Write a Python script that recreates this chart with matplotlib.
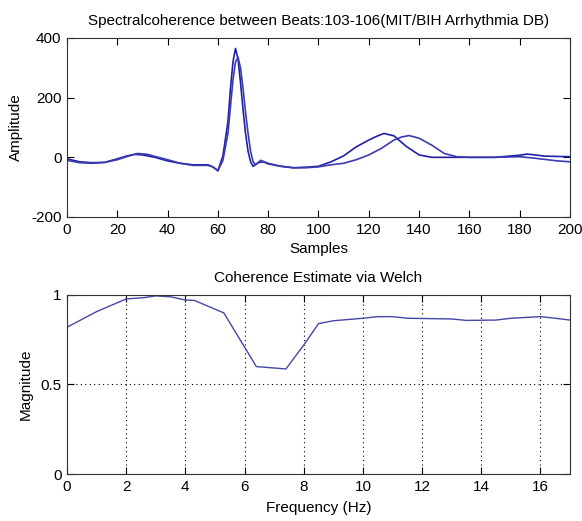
import matplotlib
matplotlib.use("Agg")
from matplotlib import pyplot as plt
import numpy as np

plt.rcParams['font.family'] = ['Liberation Sans', 'DejaVu Sans']
plt.rcParams['axes.unicode_minus'] = False

# beat 103 (earlier T wave)
beat1_x = [0, 5, 10, 15, 20, 24, 27, 30, 35, 40, 45, 50, 56, 58, 60, 62, 64, 65, 66, 67, 68, 69, 70, 71, 72, 73, 74, 76, 78, 80, 85, 90, 95, 100, 105, 110, 115, 120, 123, 126, 130, 135, 140, 145, 150, 160, 170, 180, 183, 186, 190, 195, 200]
beat1_y = [-5, -15, -18, -17, -5, 5, 10, 8, 0, -12, -20, -25, -25, -32, -45, 5, 120, 230, 320, 365, 330, 250, 160, 80, 20, -15, -30, -18, -15, -22, -30, -35, -33, -30, -15, 5, 35, 58, 70, 80, 72, 36, 8, 0, 0, 0, 0, 7, 11, 8, 4, 3, 2]

# beat 106 (later T wave)
beat2_x = [0, 5, 10, 15, 20, 24, 28, 32, 35, 40, 45, 50, 56, 58, 60, 62, 64, 65, 66, 67, 68, 69, 70, 71, 72, 73, 74, 75, 77, 80, 85, 90, 95, 100, 105, 110, 115, 120, 125, 130, 133, 136, 140, 145, 150, 155, 160, 170, 180, 185, 190, 195, 200]
beat2_y = [-10, -18, -20, -17, -8, 3, 13, 10, 3, -8, -20, -27, -27, -32, -45, -10, 80, 170, 260, 320, 335, 300, 230, 150, 80, 20, -15, -25, -10, -20, -30, -35, -35, -32, -25, -20, -8, 8, 30, 58, 68, 73, 64, 41, 13, 2, 0, 0, 2, -2, -7, -12, -15]

# coherence estimate
freq = [0, 1, 2, 2.6, 3, 3.5, 4, 4.3, 5.3, 6.4, 7.4, 8, 8.5, 9, 10, 10.5, 11, 11.5, 13, 13.5, 14.5, 15, 16, 16.5, 17]
coh = [0.82, 0.907, 0.978, 0.985, 0.995, 0.99, 0.972, 0.97, 0.90, 0.60, 0.587, 0.72, 0.84, 0.856, 0.87, 0.879, 0.879, 0.87, 0.866, 0.858, 0.86, 0.87, 0.879, 0.87, 0.86]

fig = plt.figure(figsize=(5.82, 5.21), dpi=100)
ax1 = fig.add_axes([0.1151, 0.5835, 0.8643, 0.3436])
ax2 = fig.add_axes([0.1151, 0.0902, 0.8643, 0.3436])

ax1.plot(beat1_x, beat1_y, color='#1f1fa8', lw=1.2)
ax1.plot(beat2_x, beat2_y, color='#3b3bb0', lw=1.2)
ax1.set_xlim(0, 200)
ax1.set_ylim(-200, 400)
ax1.set_xticks(np.arange(0, 201, 20))
ax1.set_yticks([-200, 0, 200, 400])
ax1.set_xlabel('Samples', fontsize=11, labelpad=4)
ax1.set_ylabel('Amplitude', fontsize=11)
ax1.yaxis.set_label_coords(-0.087, 0.5)
ax1.set_title('Spectralcoherence between Beats:103-106(MIT/BIH Arrhythmia DB)', fontsize=11, pad=9)

ax2.plot(freq, coh, color='#4646a8', lw=1.0)
ax2.set_xlim(0, 17)
ax2.set_ylim(0, 1)
ax2.set_xticks(np.arange(0, 17, 2))
ax2.set_yticks([0, 0.5, 1])
ax2.set_yticklabels(['0', '0.5', '1'])
ax2.grid(True, color='black', linestyle=(0, (1, 3)), lw=0.8)
ax2.set_xlabel('Frequency (Hz)', fontsize=11, labelpad=5)
ax2.set_ylabel('Magnitude', fontsize=11)
ax2.yaxis.set_label_coords(-0.068, 0.5)
ax2.set_title('Coherence Estimate via Welch', fontsize=11, pad=9)

for ax in (ax1, ax2):
    ax.tick_params(direction='in', top=True, right=True, labelsize=11, length=5, pad=4)
    for s in ax.spines.values():
        s.set_color('#333333')

plt.savefig('out.png', dpi=100)
